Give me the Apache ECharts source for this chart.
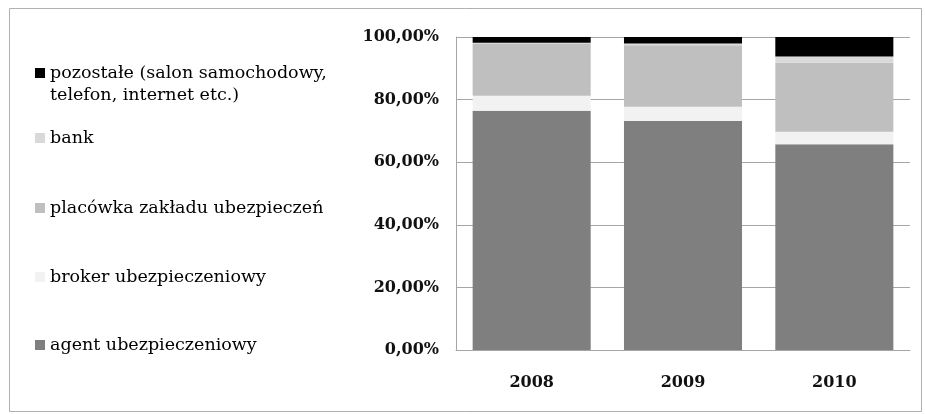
<!DOCTYPE html>
<html>
<head>
<meta charset="utf-8">
<script src="https://cdn.jsdelivr.net/npm/echarts@6/dist/echarts.min.js"></script>
<style>
html,body{margin:0;padding:0;background:#fff;}
#c{width:925px;height:414px;}
</style>
</head>
<body>
<div id="c"></div>
<script>
var categories = ['2008', '2009', '2010'];
var seriesNames = [
  'agent ubezpieczeniowy',
  'broker ubezpieczeniowy',
  'placówka zakładu ubezpieczeń',
  'bank',
  'pozostałe (salon samochodowy,\ntelefon, internet etc.)'
];
var agentValues = [76.4, 73.2, 65.7];
var brokerValues = [4.8, 4.5, 4.0];
var placowkaValues = [16.6, 19.7, 22.1];
var bankValues = [0.4, 0.5, 2.0];
var pozostaleValues = [1.8, 2.1, 6.2];
var yTicks = [0, 20, 40, 60, 80, 100];

var colors = ['#7f7f7f', '#f2f2f2', '#bfbfbf', '#d9d9d9', '#000000'];
var allValues = [agentValues, brokerValues, placowkaValues, bankValues, pozostaleValues];

var legendFont = 'DejaVu Serif';
var axisFont = 'DejaVu Serif';
var chart = echarts.init(document.getElementById('c'), null, {renderer: 'canvas'});

function mkLegend(name, top, tall) {
  var lg = {
    data: [name],
    orient: 'vertical',
    left: 35,
    top: top,
    padding: 0,
    itemWidth: 10,
    itemHeight: 10,
    icon: 'rect',
    selectedMode: false,
    textStyle: {fontFamily: legendFont, fontSize: 17.5, color: '#000', lineHeight: 22}
  };
  if (tall) {
    lg.itemHeight = 44;
    lg.icon = 'path://M0,0h0.01v0.01h-0.01zM0,6h10v10h-10zM0,43.99h0.01v0.01h-0.01z';
  }
  return lg;
}

var series = seriesNames.map(function (n, i) {
  return {
    name: n,
    type: 'bar',
    stack: 'total',
    barCategoryGap: '22%',
    data: allValues[i],
    itemStyle: {color: colors[i]},
    emphasis: {disabled: true}
  };
});

chart.setOption({
  animation: false,
  backgroundColor: '#fff',
  graphic: [{
    type: 'rect',
    shape: {x: 9.5, y: 8.5, width: 912, height: 403},
    style: {fill: 'none', stroke: '#b0b0b0', lineWidth: 1},
    silent: true
  }],
  legend: [
    mkLegend(seriesNames[4], 62, true),
    mkLegend(seriesNames[3], 127),
    mkLegend(seriesNames[2], 197),
    mkLegend(seriesNames[1], 266),
    mkLegend(seriesNames[0], 334)
  ],
  grid: {left: 456, right: 15, top: 37, bottom: 64, containLabel: false},
  xAxis: {
    type: 'category',
    data: categories,
    axisLine: {show: true, lineStyle: {color: '#a6a6a6', width: 1}},
    axisTick: {show: false},
    axisLabel: {fontFamily: axisFont, fontSize: 16, fontWeight: 'bold', color: '#111', margin: 25}
  },
  yAxis: {
    type: 'value',
    min: 0,
    max: 100,
    interval: 20,
    axisLine: {show: true, lineStyle: {color: '#a6a6a6', width: 1}},
    axisTick: {show: false},
    splitLine: {show: true, lineStyle: {color: '#a6a6a6', width: 1}},
    axisLabel: {
      fontFamily: axisFont, fontSize: 16, fontWeight: 'bold', color: '#111', margin: 17,
      formatter: function (v) {
        return yTicks.indexOf(v) >= 0 ? v.toFixed(2).replace('.', ',') + '%' : '';
      }
    }
  },
  series: series
});
</script>
</body>
</html>
